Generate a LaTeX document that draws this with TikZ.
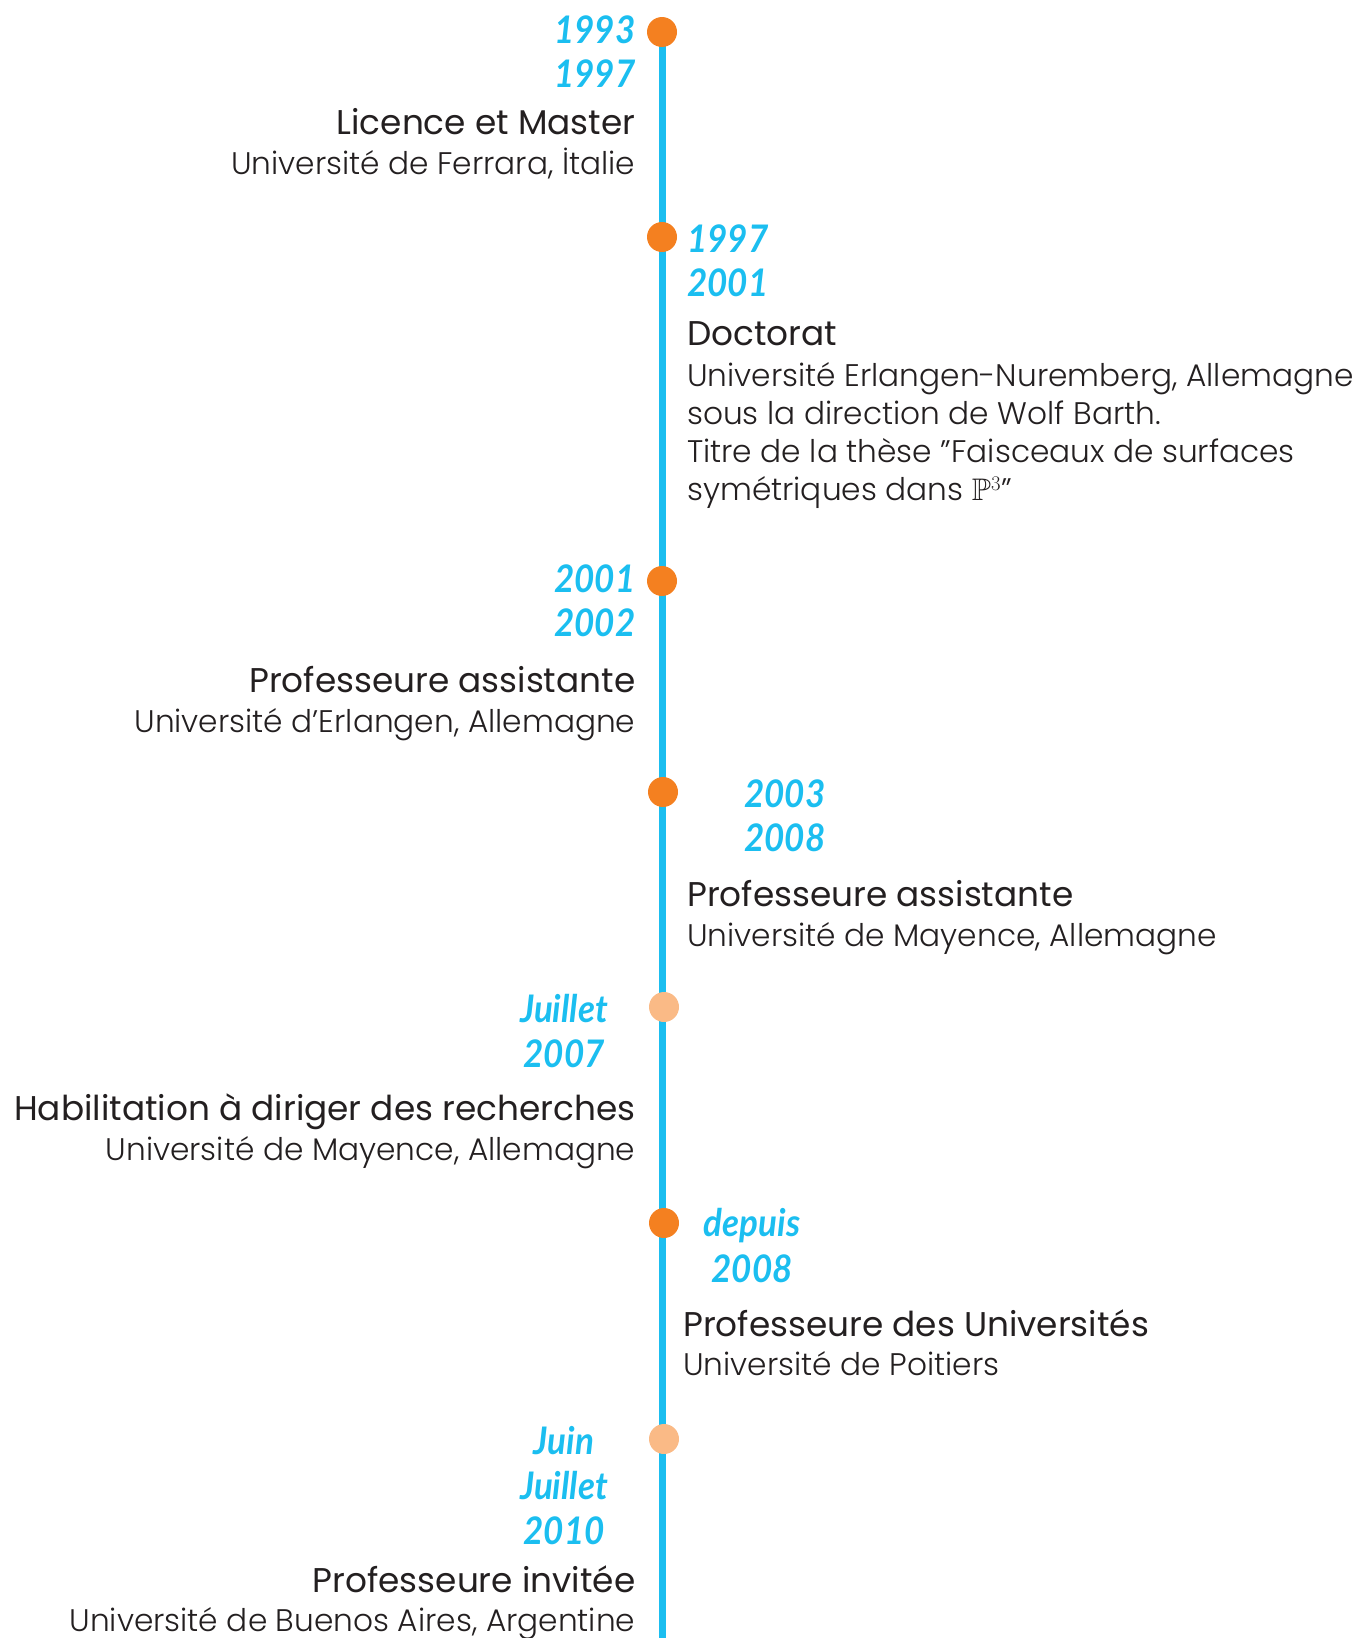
\documentclass[tikz,border=0pt]{standalone}
\usepackage{amssymb}
\usepackage{fontspec}
\setmainfont{Poppins}
\newfontfamily\lightfont{Poppins}[UprightFont=* Light]
\newfontfamily\yearfont[FakeStretch=0.92]{Lato}
\definecolor{linecol}{RGB}{27,190,240}
\definecolor{yearcol}{RGB}{27,190,240}
\definecolor{dotcol}{RGB}{244,128,32}
\definecolor{lightdot}{RGB}{250,186,134}
\definecolor{txtcol}{RGB}{35,31,32}
\tikzset{
  year/.style={text=yearcol,font=\yearfont\bfseries\itshape\fontsize{38}{38}\selectfont,inner sep=0pt},
  ttl/.style={text=txtcol,font=\fontsize{34.3}{34.3}\selectfont,inner sep=0pt},
  sub/.style={text=txtcol,font=\lightfont\fontsize{31.2}{31.2}\selectfont,inner sep=0pt},
  dot/.style={circle,fill=dotcol,minimum size=30pt,inner sep=0pt},
  ldot/.style={circle,fill=lightdot,minimum size=30pt,inner sep=0pt},
}
\begin{document}
\begin{tikzpicture}[x=1pt,y=-1pt]
\useasboundingbox (0,0) rectangle (1365,1638);
\coordinate (top) at (662,32);
\coordinate (bot) at (662,1638);
\draw[linecol,line width=7pt] (top) -- (bot);
\node[dot] (d1) at (662,32) {};
\node[dot] (d2) at (662,237) {};
\node[dot] (d3) at (662,581) {};
\node[dot] (d4) at (663,792) {};
\node[ldot] (d5) at (664,1007) {};
\node[dot] (d6) at (664,1223) {};
\node[ldot] (d7) at (664,1439) {};
% block 1
\node[year,anchor=base east] (y1a) at (635.5,43) {1993};
\node[year,anchor=base east] (y1b) at (635.5,87) {1997};
\node[ttl,anchor=base east] (t1) at (635.5,134) {Licence et Master};
\node[sub,anchor=base east] (s1) at (635.5,174) {Université de Ferrara, İtalie};
% block 2
\node[year,anchor=base west] (y2a) at (687,252) {1997};
\node[year,anchor=base west] (y2b) at (687,296) {2001};
\node[ttl,anchor=base west] (t2) at (687,345) {Doctorat};
\node[sub,anchor=base west] (s2a) at (687,386) {Université Erlangen-Nuremberg, Allemagne};
\node[sub,anchor=base west] (s2b) at (687,424) {sous la direction de Wolf Barth.};
\node[sub,anchor=base west] (s2c) at (687,462) {Titre de la thèse ”Faisceaux de surfaces};
\node[sub,anchor=base west] (s2d) at (687,500) {symétriques dans $\mathbb{P}^3$”};
% block 3
\node[year,anchor=base east] (y3a) at (635.5,592) {2001};
\node[year,anchor=base east] (y3b) at (635.5,636) {2002};
\node[ttl,anchor=base east] (t3) at (635.5,692) {Professeure assistante};
\node[sub,anchor=base east] (s3) at (635.5,732) {Université d’Erlangen, Allemagne};
% block 4
\node[year,anchor=base west] (y4a) at (744,807) {2003};
\node[year,anchor=base west] (y4b) at (744,851) {2008};
\node[ttl,anchor=base west] (t4) at (687,906) {Professeure assistante};
\node[sub,anchor=base west] (s4) at (687,946) {Université de Mayence, Allemagne};
% block 5
\node[year,anchor=base] (y5a) at (564,1022) {Juillet};
\node[year,anchor=base] (y5b) at (564,1067) {2007};
\node[ttl,anchor=base east] (t5) at (635.5,1120) {Habilitation à diriger des recherches};
\node[sub,anchor=base east] (s5) at (635.5,1160) {Université de Mayence, Allemagne};
% block 6
\node[year,anchor=base] (y6a) at (752,1236) {depuis};
\node[year,anchor=base] (y6b) at (752,1282) {2008};
\node[ttl,anchor=base west] (t6) at (683,1336) {Professeure des Universités};
\node[sub,anchor=base west] (s6) at (683,1375) {Université de Poitiers};
% block 7
\node[year,anchor=base] (y7a) at (564,1454) {Juin};
\node[year,anchor=base] (y7b) at (564,1499) {Juillet};
\node[year,anchor=base] (y7c) at (564,1544) {2010};
\node[ttl,anchor=base east] (t7) at (635.5,1592) {Professeure invitée};
\node[sub,anchor=base east] (s7) at (635.5,1631) {Université de Buenos Aires, Argentine};
\end{tikzpicture}
\end{document}
